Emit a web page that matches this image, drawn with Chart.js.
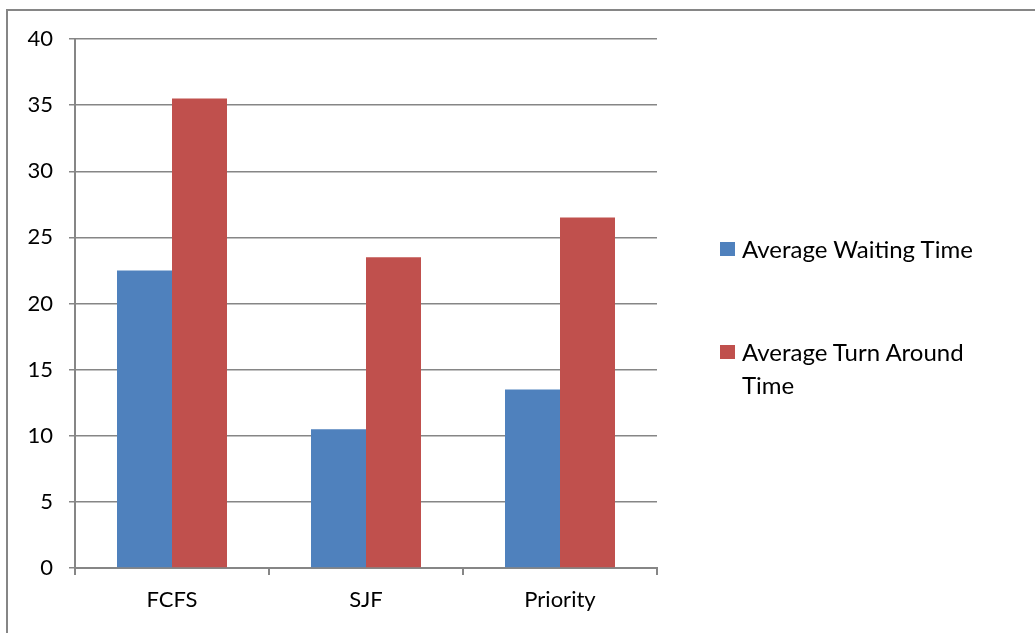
<!DOCTYPE html>
<html lang="en">
<head>
<meta charset="UTF-8" />
<title>Scheduling Comparison</title>
<style>
  html, body {
    margin: 0;
    padding: 0;
    background: #ffffff;
    overflow: hidden;
  }
  #frame {
    position: absolute;
    left: 6px;
    top: 9px;
    width: 1100px;
    height: 700px;
    border: 2px solid #868686;
    box-sizing: border-box;
  }
  #wrap {
    position: absolute;
    left: 0;
    top: 0;
    width: 1035px;
    height: 633px;
  }
  #legend {
    position: absolute;
    left: 720px;
    top: 232px;
    width: 272px;
    font-family: Lato, "Open Sans", sans-serif;
    font-size: 24px;
    color: #000;
  }
  .item {
    position: relative;
    padding-left: 22px;
    line-height: 33px;
    margin-bottom: 70px;
  }
  .item .box {
    position: absolute;
    left: 0;
    top: 10px;
    width: 15px;
    height: 14px;
  }
</style>
</head>
<body>
<div id="frame"></div>
<div id="wrap"><canvas id="chart" width="1035" height="633"></canvas></div>
<div id="legend"></div>

<script src="https://cdn.jsdelivr.net/npm/chart.js"></script>
<script>
  // chart data
  const categories = ['FCFS', 'SJF', 'Priority'];
  const waitingTime = [22.5, 10.5, 13.5];
  const turnAroundTime = [35.5, 23.5, 26.5];
  const seriesNames = ['Average Waiting Time', 'Average Turn Around Time'];
  const seriesColors = ['#4F81BD', '#C0504D'];

  const gray = '#868686';
  const font = { family: 'Lato, "Open Sans", sans-serif', size: 22 };

  new Chart(document.getElementById('chart'), {
    type: 'bar',
    data: {
      labels: categories,
      datasets: [
        { label: seriesNames[0], data: waitingTime, backgroundColor: seriesColors[0] },
        { label: seriesNames[1], data: turnAroundTime, backgroundColor: seriesColors[1] }
      ]
    },
    options: {
      responsive: false,
      animation: false,
      layout: { padding: { top: 39, right: 378, bottom: 0, left: 0 } },
      datasets: {
        bar: { categoryPercentage: 0.567, barPercentage: 1.0 }
      },
      plugins: {
        legend: { display: false },
        tooltip: { enabled: false }
      },
      scales: {
        x: {
          grid: { offset: true, drawOnChartArea: false, color: gray, lineWidth: 2, tickLength: 7 },
          border: { color: gray, width: 2 },
          ticks: { color: '#000', font: font, padding: 12 },
          afterFit: s => { s.height = 65; }
        },
        y: {
          min: 0,
          max: 40,
          ticks: { stepSize: 5, color: '#000', font: font, padding: 16 },
          grid: { color: gray, lineWidth: 1.5, tickLength: 6 },
          border: { color: gray, width: 2 },
          afterFit: s => { s.width = 75; }
        }
      }
    }
  });

  // legend built from the same series arrays
  const legend = document.getElementById('legend');
  seriesNames.forEach((name, i) => {
    const div = document.createElement('div');
    div.className = 'item';
    div.innerHTML = '<span class="box" style="background:' + seriesColors[i] + '"></span>' + name;
    legend.appendChild(div);
  });
</script>
</body>
</html>
